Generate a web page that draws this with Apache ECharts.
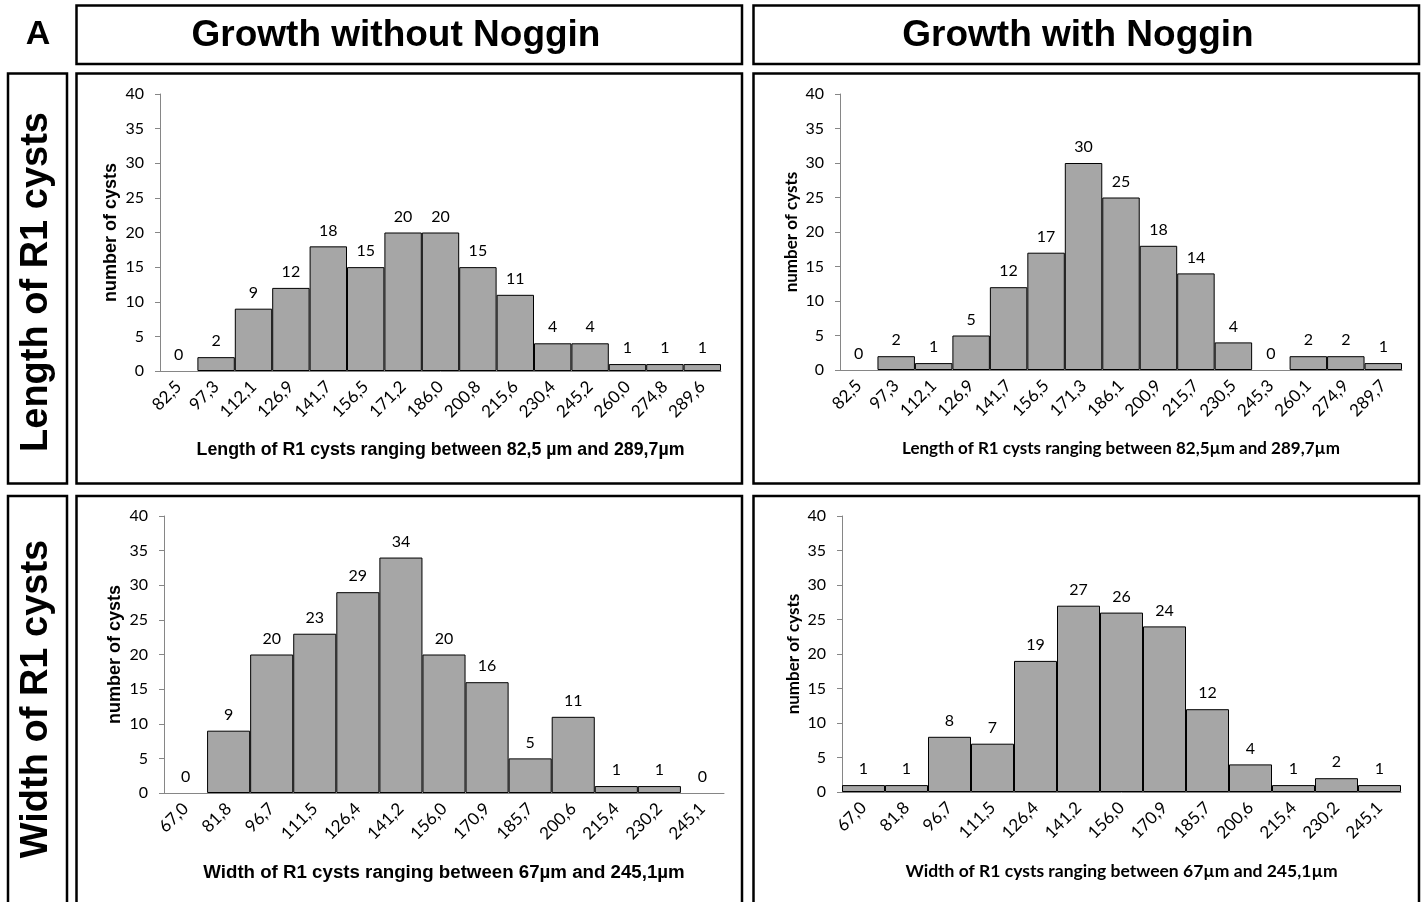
<!DOCTYPE html>
<html>
<head>
<meta charset="utf-8">
<script src="https://cdn.jsdelivr.net/npm/echarts@6/dist/echarts.min.js"></script>
<style>
  html, body { margin: 0; padding: 0; background: #fff; }
  #chart { width: 1426px; height: 902px; }
</style>
</head>
<body>
<div id="chart"></div>
<script>
// ---- Data ----
const lengthNoNogCats = ['82,5','97,3','112,1','126,9','141,7','156,5','171,2','186,0','200,8','215,6','230,4','245,2','260,0','274,8','289,6'];
const lengthNoNogVals = [0, 2, 9, 12, 18, 15, 20, 20, 15, 11, 4, 4, 1, 1, 1];

const lengthNogCats = ['82,5','97,3','112,1','126,9','141,7','156,5','171,3','186,1','200,9','215,7','230,5','245,3','260,1','274,9','289,7'];
const lengthNogVals = [0, 2, 1, 5, 12, 17, 30, 25, 18, 14, 4, 0, 2, 2, 1];

const widthCats = ['67,0','81,8','96,7','111,5','126,4','141,2','156,0','170,9','185,7','200,6','215,4','230,2','245,1'];
const widthNoNogVals = [0, 9, 20, 23, 29, 34, 20, 16, 5, 11, 1, 1, 0];
const widthNogVals = [1, 1, 8, 7, 19, 27, 26, 24, 12, 4, 1, 2, 1];

const yTicks = { min: 0, max: 40, interval: 5 };

const colTitles = ['Growth without Noggin', 'Growth with Noggin'];
const rowTitles = ['Length of R1 cysts', 'Width of R1 cysts'];
const panelLetter = 'A';
const xTitles = [
  'Length of R1 cysts ranging between 82,5 µm and 289,7µm',
  'Length of R1 cysts ranging between 82,5µm and 289,7µm',
  'Width of R1 cysts ranging between 67µm and 245,1µm',
  'Width of R1 cysts ranging between 67µm and 245,1µm'
];
const yTitle = 'number of cysts';

// ---- Styling / layout ----
const CAL = 'Lato, "Open Sans", sans-serif';
const ARIAL = '"Liberation Sans", Arial, sans-serif';
const axisGray = '#868686';

const grids = [
  { left: 160, top: 94, width: 561, height: 277 },
  { left: 840, top: 94, width: 562, height: 276 },
  { left: 164, top: 516, width: 560, height: 277 },
  { left: 842, top: 516, width: 559, height: 276 }
];
const panels = [
  { cats: lengthNoNogCats, vals: lengthNoNogVals, xFont: ARIAL, xSize: 17.8, yFont: ARIAL, ySize: 18 },
  { cats: lengthNogCats, vals: lengthNogVals, xFont: CAL, xSize: 17, yFont: CAL, ySize: 17 },
  { cats: widthCats, vals: widthNoNogVals, xFont: ARIAL, xSize: 18.7, yFont: ARIAL, ySize: 18 },
  { cats: widthCats, vals: widthNogVals, xFont: CAL, xSize: 17.5, yFont: CAL, ySize: 17 }
];

const xAxes = panels.map((p, i) => ({
  type: 'category',
  gridIndex: i,
  data: p.cats,
  axisTick: { show: false },
  axisLine: { show: true, lineStyle: { color: axisGray, width: 1 } },
  axisLabel: { rotate: 45, interval: 0, fontFamily: CAL, fontSize: 17, color: '#000', margin: 13 },
  name: xTitles[i],
  nameLocation: 'middle',
  nameGap: 70,
  nameTextStyle: { fontFamily: p.xFont, fontWeight: 'bold', fontSize: p.xSize, color: '#000' }
}));

const yAxes = panels.map((p, i) => ({
  type: 'value',
  gridIndex: i,
  min: yTicks.min, max: yTicks.max, interval: yTicks.interval,
  axisLine: { show: true, lineStyle: { color: axisGray, width: 1 } },
  axisTick: { show: true, length: 5, lineStyle: { color: axisGray } },
  splitLine: { show: false },
  axisLabel: { fontFamily: CAL, fontSize: 16, color: '#000', margin: 16 },
  name: yTitle,
  nameLocation: 'middle',
  nameGap: 40,
  nameTextStyle: { fontFamily: p.yFont, fontWeight: 'bold', fontSize: p.ySize, color: '#000' }
}));

const series = panels.map((p, i) => ({
  type: 'bar',
  xAxisIndex: i,
  yAxisIndex: i,
  barCategoryGap: 0,
  data: p.vals.map(v => v === 0 ? { value: v, itemStyle: { borderWidth: 0 } } : v),
  itemStyle: { color: '#A6A6A6', borderColor: '#000', borderWidth: 1 },
  label: { show: true, position: 'top', distance: 8, fontFamily: CAL, fontSize: 16, color: '#000' },
  emphasis: { disabled: true },
  animation: false
}));

const boxStyle = { fill: 'none', stroke: '#000', lineWidth: 2.5 };
const boxes = [
  [76.5, 5.5, 665.5, 58.5],
  [753.5, 5.5, 665.5, 58.5],
  [8, 73.5, 59, 410],
  [8, 496, 59, 420],
  [76.5, 73.5, 665.5, 410],
  [753.5, 73.5, 665.5, 410],
  [76.5, 496, 665.5, 420],
  [753.5, 496, 665.5, 420]
].map(b => ({ type: 'rect', shape: { x: b[0], y: b[1], width: b[2], height: b[3] }, style: boxStyle, silent: true }));

function txt(text, x, y, size, rot) {
  return {
    type: 'text', x: x, y: y, rotation: rot || 0, silent: true,
    style: { text: text, x: 0, y: 0, fill: '#000', font: 'bold ' + size + 'px ' + ARIAL,
             align: 'center', verticalAlign: 'middle', textAlign: 'center', textVerticalAlign: 'middle' }
  };
}

const texts = [
  txt(panelLetter, 38, 35, 34),
  txt(colTitles[0], 396, 36, 37),
  txt(colTitles[1], 1078, 36, 37),
  txt(rowTitles[0], 37, 282, 38, Math.PI / 2),
  txt(rowTitles[1], 37, 699, 38, Math.PI / 2)
];

const chart = echarts.init(document.getElementById('chart'), null, { renderer: 'canvas' });
chart.setOption({
  animation: false,
  backgroundColor: '#fff',
  grid: grids,
  xAxis: xAxes,
  yAxis: yAxes,
  series: series,
  graphic: boxes.concat(texts)
});
</script>
</body>
</html>
